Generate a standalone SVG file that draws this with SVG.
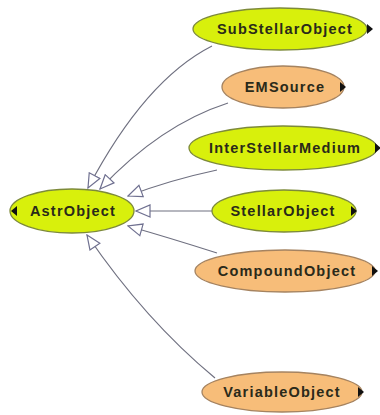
<svg xmlns="http://www.w3.org/2000/svg" width="380" height="415" viewBox="0 0 380 415">
  <style>
    .green { fill: #d8f00c; stroke: #7d8a3a; stroke-width: 1.3; }
    .orange { fill: #f7bd79; stroke: #a58360; stroke-width: 1.3; }
    .label { font-family: "Liberation Sans", Arial, sans-serif; font-weight: bold; font-size: 14.5px; letter-spacing: 1.2px; fill: #2a2a1a; text-anchor: middle; dominant-baseline: central; }
    .tri { fill: #111; }
    .edge { fill: none; stroke: #6f7080; stroke-width: 1.2; marker-end: url(#hollow); }
  </style>
  <defs>
    <marker id="hollow" viewBox="0 0 16 14" refX="15" refY="7" markerWidth="16" markerHeight="14" markerUnits="userSpaceOnUse" orient="auto">
      <path d="M1,1 L15,7 L1,13 Z" fill="#fff" stroke="#6f7090" stroke-width="1.2"/>
    </marker>
  </defs>
  <rect width="380" height="415" fill="#fff"/>

  <g id="connectors">
    <path class="edge" d="M212,46 Q145,80 88,188"/>
    <path class="edge" d="M228,103 Q160,125 100,189"/>
    <path class="edge" d="M217,170 Q170,180 128,196"/>
    <path class="edge" d="M213,211 L136,211"/>
    <path class="edge" d="M217,253 Q170,238 128,226"/>
    <path class="edge" d="M215,378 Q145,320 87,235"/>
  </g>

  <g id="AstrObject">
    <ellipse class="green" cx="72" cy="211" rx="62" ry="22"/>
    <path class="tri" d="M11,211 L17,206 L17,216 Z"/>
    <text class="label" x="73" y="211">AstrObject</text>
  </g>

  <g id="SubStellarObject">
    <ellipse class="green" cx="280" cy="29" rx="87" ry="21"/>
    <path class="tri" d="M373,29 L367,24 L367,34 Z"/>
    <text class="label" x="285" y="29">SubStellarObject</text>
  </g>

  <g id="EMSource">
    <ellipse class="orange" cx="283" cy="87" rx="61" ry="21"/>
    <path class="tri" d="M346,87 L340,82 L340,92 Z"/>
    <text class="label" x="285" y="87">EMSource</text>
  </g>

  <g id="InterStellarMedium">
    <ellipse class="green" cx="283" cy="148" rx="94" ry="22"/>
    <path class="tri" d="M381,148 L375,143 L375,153 Z"/>
    <text class="label" x="285" y="148">InterStellarMedium</text>
  </g>

  <g id="StellarObject">
    <ellipse class="green" cx="284" cy="211" rx="72" ry="21"/>
    <path class="tri" d="M357,211 L351,206 L351,216 Z"/>
    <text class="label" x="283" y="211">StellarObject</text>
  </g>

  <g id="CompoundObject">
    <ellipse class="orange" cx="285" cy="271" rx="90" ry="21"/>
    <path class="tri" d="M378,271 L372,266 L372,276 Z"/>
    <text class="label" x="287" y="271">CompoundObject</text>
  </g>

  <g id="VariableObject">
    <ellipse class="orange" cx="282" cy="392" rx="80" ry="20"/>
    <path class="tri" d="M364,392 L358,387 L358,397 Z"/>
    <text class="label" x="282" y="392">VariableObject</text>
  </g>
</svg>
